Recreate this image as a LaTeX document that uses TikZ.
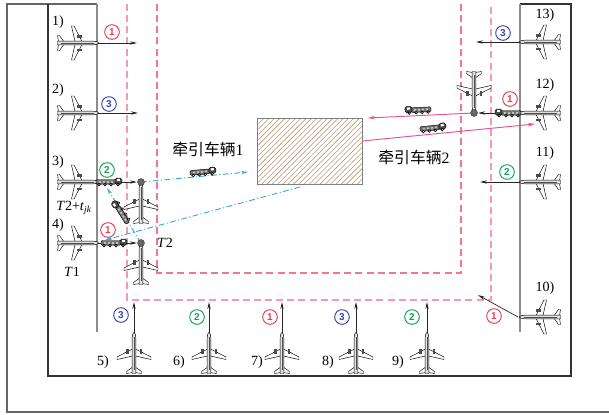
\documentclass[tikz,border=0pt]{standalone}
\usepackage{fontspec}
\setmainfont{Liberation Serif}
\newfontfamily\cjk{Noto Sans CJK SC}
\newfontfamily\numfont{Liberation Sans}
\usetikzlibrary{arrows.meta,patterns.meta}

\definecolor{numred}{RGB}{232,60,80}
\definecolor{numblue}{RGB}{60,70,170}
\definecolor{numgreen}{RGB}{20,160,90}
\definecolor{innerpink}{RGB}{240,120,142}
\definecolor{outerpink}{RGB}{243,155,175}
\definecolor{towblue}{RGB}{60,170,225}
\definecolor{towpink}{RGB}{232,80,150}
\definecolor{hatchbrown}{RGB}{185,150,110}

\tikzset{
  wall/.style={draw=black!80,line width=0.9pt},
  gateline/.style={draw=black!45,line width=0.9pt},
  innerlane/.style={draw=innerpink,line width=1pt,dash pattern=on 6pt off 3.5pt},
  outerlane/.style={draw=outerpink,line width=1pt,dash pattern=on 6pt off 3.5pt},
  taxi/.style={draw=black!85,line width=0.6pt,-{Stealth[length=6pt,width=2.8pt]}},
  towb/.style={draw=towblue,line width=0.8pt,dash pattern=on 5pt off 2pt on 1pt off 2pt,-{Stealth[length=6pt,width=3pt]}},
  towp/.style={draw=towpink,line width=0.8pt,-{Stealth[length=6pt,width=3pt]}},
  num/.style={circle,draw=#1,text=#1,line width=0.8pt,inner sep=0pt,minimum size=12.5pt,
    font=\numfont\bfseries\fontsize{8.5}{8.5}\selectfont},
  lbl/.style={inner sep=0pt,font=\fontsize{12}{13}\selectfont},
  hold/.style={fill=black!60,draw=black!80,line width=0.3pt},
  plane/.pic={
    % wings
    \draw[fill=white,line width=0.4pt] (4,-1.5) -- (-4,-17) -- (-6.5,-17) -- (-3,-1.5) -- cycle ;
    \draw[fill=white,line width=0.4pt] (4,1.5) -- (-4,17) -- (-6.5,17) -- (-3,1.5) -- cycle ;
    % engines
    \fill[black!70] (-1,-8) rectangle (4,-5.5) ;
    \fill[black!70] (-1,8) rectangle (4,5.5) ;
    % tailplane
    \draw[fill=white,line width=0.4pt] (-14,-1.2) -- (-18.5,-7.5) -- (-20.5,-7.5) -- (-19.5,-1.2) -- cycle ;
    \draw[fill=white,line width=0.4pt] (-14,1.2) -- (-18.5,7.5) -- (-20.5,7.5) -- (-19.5,1.2) -- cycle ;
    % fuselage
    \draw[fill=black!12,line width=0.4pt] (-20.5,-1.8) -- (15,-1.8) .. controls (19,-1.8) and (20.5,-0.6) .. (20.5,0)
      .. controls (20.5,0.6) and (19,1.8) .. (15,1.8) -- (-20.5,1.8) -- cycle ;
    \draw[black!70,line width=0.5pt] (-17,0) -- (16,0) ;
  },
  tug/.pic={
    \draw[fill=black!55,draw=black,line width=0.4pt,rounded corners=1pt] (-13,-2.5) rectangle (7,2.2) ;
    \draw[fill=black!70,draw=black,line width=0.4pt,rounded corners=1.5pt] (6,-4) rectangle (13,2.2) ;
    \fill[white] (8,-3) rectangle (11,-0.8) ;
    \foreach \s in {-10,-6,-2,2} \fill[black!25] (\s,-1.2) rectangle (\s+2,0.6) ;
    \foreach \w in {-10,-4,2,9} {
      \fill[black] (\w,2.6) circle (1.5pt) ;
      \fill[white] (\w,2.6) circle (0.5pt) ;
    }
  }
}

\begin{document}
\begin{tikzpicture}[x=0.03cm,y=-0.03cm]
  \useasboundingbox (0,0) rectangle (609,414) ;

  % stands and apron frame
  \draw[draw=black!60,line width=0.9pt] (97,4) -- (7,4) -- (7,412) -- (609,412) ;
  \draw[wall] (48,4) -- (48,376) -- (571,376) -- (571,4) -- (520,4) ;
  \draw[gateline] (97,4) -- (97,332) ;
  \draw[gateline] (520,4) -- (520,332) ;

  % taxi lanes
  \draw[outerlane] (127,4) -- (127,300) -- (491,300) -- (491,4) ;
  \draw[innerlane] (157,4) -- (157,273) -- (461,273) -- (461,4) ;

  % tug depot
  \draw[draw=black!50,line width=0.7pt,pattern={Lines[angle=45,distance=3.2pt,line width=0.5pt]},
    pattern color=hatchbrown] (257,118) rectangle (362,184) ;

  % tug routes
  \coordinate (d3) at (141,182) ;
  \coordinate (d4) at (141,243) ;
  \coordinate (d12) at (474,113) ;
  \draw[towb] (d3) -- (248,172) ;
  \draw[towb] (d4) -- (107,188) ;
  \draw[towb] (300,187) -- (105,240) ;
  \draw[towp] (d12) -- (368,118) ;
  \draw[towp] (362,141) -- (535,124) ;

  % push-back and taxi-out arrows
  \draw[taxi] (97,43) -- (137,43) ;
  \draw[taxi] (97,113) -- (138,113) ;
  \draw[taxi] (97,182) -- (137,182) ;
  \draw[taxi] (97,243) -- (137,243) ;
  \draw[taxi] (520,42) -- (476,42) ;
  \draw[taxi] (520,113) -- (478,113) ;
  \draw[taxi] (520,182) -- (480,182) ;
  \draw[taxi] (518,317) -- (478,295) ;
  \foreach \x in {134,209,282,356,427}
    \draw[taxi] (\x,333) -- (\x,302) ;

  % aircraft at stands
  \foreach \y in {43,113,182,243}
    \pic at (78,\y) {plane} ;
  \foreach \y in {42,113,182,317}
    \pic[rotate=180] at (540,\y) {plane} ;
  \foreach \x in {134,209,282,356,427}
    \pic[rotate=90] at (\x,353) {plane} ;
  \pic[rotate=90] at (141,203) {plane} ;
  \pic[rotate=90] at (141,264) {plane} ;
  \pic[rotate=-90] at (474,92) {plane} ;

  % tugs
  \pic at (109,182) {tug} ;
  \pic at (114,243) {tug} ;
  \pic[rotate=5] at (203,172) {tug} ;
  \pic[rotate=122] at (121,212) {tug} ;
  \pic[xscale=-1,rotate=-3] at (418,110) {tug} ;
  \pic[rotate=6] at (433,128) {tug} ;
  \pic[xscale=-1] at (508,113) {tug} ;

  % holding points
  \draw[hold] (d3) circle (3pt) ;
  \draw[hold] (d4) circle (3pt) ;
  \draw[hold] (d12) circle (3pt) ;

  % stand numbers
  \node[lbl] (s1) at (58,22) {1)} ;
  \node[lbl] (s2) at (58,90) {2)} ;
  \node[lbl] (s3) at (58,162) {3)} ;
  \node[lbl] (s4) at (58,225) {4)} ;
  \node[lbl] (s5) at (103,362) {5)} ;
  \node[lbl] (s6) at (179,362) {6)} ;
  \node[lbl] (s7) at (257,362) {7)} ;
  \node[lbl] (s8) at (328,362) {8)} ;
  \node[lbl] (s9) at (398,362) {9)} ;
  \node[lbl] (s10) at (545,288) {10)} ;
  \node[lbl] (s11) at (545,153) {11)} ;
  \node[lbl] (s12) at (545,85) {12)} ;
  \node[lbl] (s13) at (545,15) {13)} ;

  % times
  \node[lbl] (tjk) at (74,208) {\textit{T}2+\textit{t}\textsubscript{\textit{jk}}} ;
  \node[lbl] (t1) at (72,272) {\textit{T}1} ;
  \node[lbl] (t2) at (165,243) {\textit{T}2} ;

  % tug labels
  \node[inner sep=0pt,font=\fontsize{13.5}{15}\selectfont] (tug1) at (208,149) {{\cjk 牵引车辆}1} ;
  \node[inner sep=0pt,font=\fontsize{13.5}{15}\selectfont] (tug2) at (414,157) {{\cjk 牵引车辆}2} ;

  % taxi order
  \node[num=numred] (o1) at (112,32) {1} ;
  \node[num=numblue] (o2) at (109,104) {3} ;
  \node[num=numgreen] (o3) at (107,170) {2} ;
  \node[num=numred] (o4) at (108,230) {1} ;
  \node[num=numblue] (o5) at (121,315) {3} ;
  \node[num=numgreen] (o6) at (197,317) {2} ;
  \node[num=numred] (o7) at (270,317) {1} ;
  \node[num=numblue] (o8) at (342,317) {3} ;
  \node[num=numgreen] (o9) at (412,317) {2} ;
  \node[num=numred] (o10) at (494,316) {1} ;
  \node[num=numgreen] (o11) at (507,172) {2} ;
  \node[num=numred] (o12) at (510,99) {1} ;
  \node[num=numblue] (o13) at (503,33) {3} ;
\end{tikzpicture}
\end{document}
